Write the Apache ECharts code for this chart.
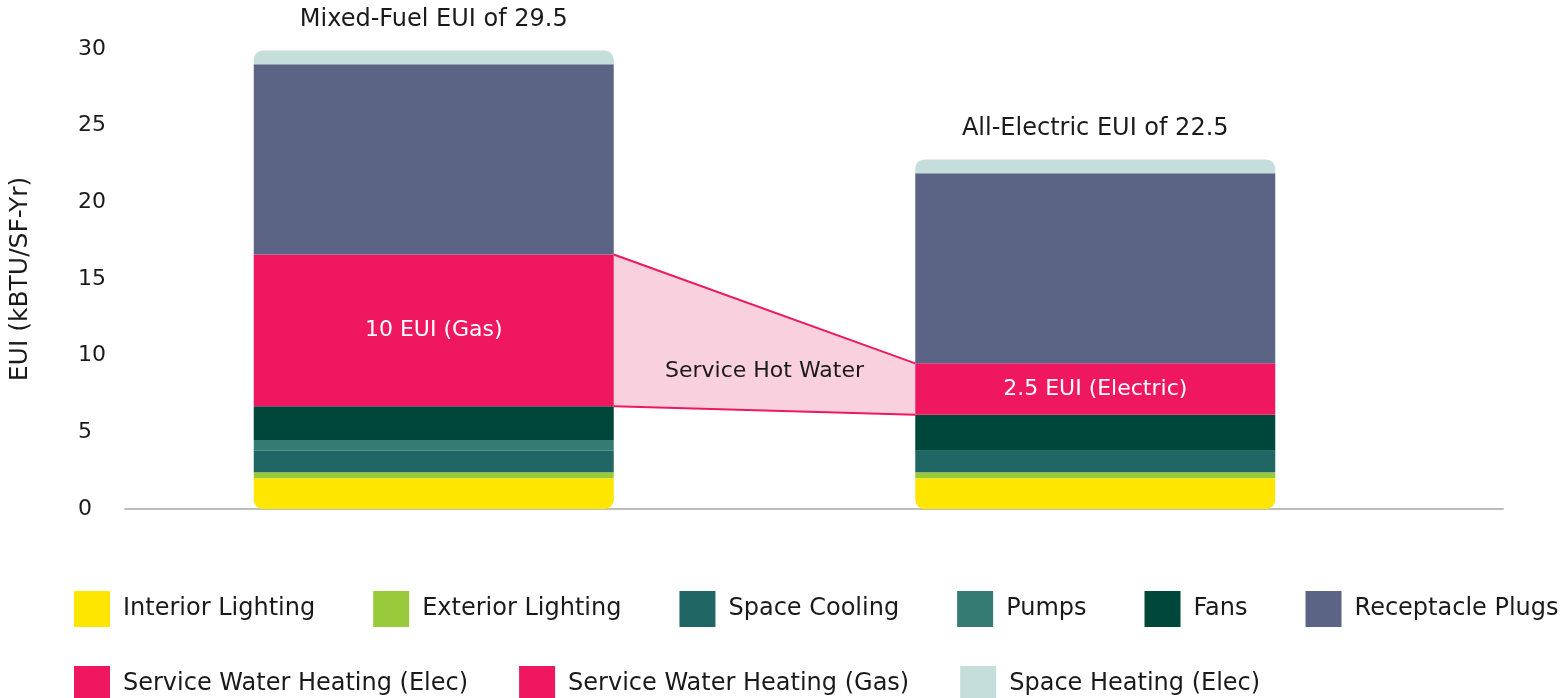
<!DOCTYPE html>
<html>
<head>
<meta charset="utf-8">
<script src="https://cdn.jsdelivr.net/npm/echarts@6/dist/echarts.min.js"></script>
<style>
  html, body { margin: 0; padding: 0; background: #fff; }
  #chart { width: 1562px; height: 698px; }
</style>
</head>
<body>
<div id="chart"></div>
<script>
// data (kBTU/SF-Yr)
const categories = ['Mixed-Fuel', 'All-Electric'];
const barTitles = ['Mixed-Fuel EUI of 29.5', 'All-Electric EUI of 22.5'];

const interiorLighting = [2.0, 2.0];
const exteriorLighting = [0.4, 0.4];
const spaceCooling = [1.4, 1.4];
const pumps = [0.7, 0];
const fans = [2.2, 2.35];
const swhElec = [0, 3.35];
const swhGas = [9.9, 0];
const receptaclePlugs = [12.4, 12.4];
const spaceHeating = [0.9, 0.9];

const swhLabels = ['10 EUI (Gas)', '2.5 EUI (Electric)'];
const connectorLabel = 'Service Hot Water';
const yTicks = [0, 30, 5]; // min, max, interval

const FONT = 'DejaVu Sans';
const FS = 22;
const LEGEND_FS = 24;
const PINK = '#EF1860';

const layers = [
  { name: 'Interior Lighting', data: interiorLighting, color: '#FFE600' },
  { name: 'Exterior Lighting', data: exteriorLighting, color: '#99CA3C' },
  { name: 'Space Cooling', data: spaceCooling, color: '#206665' },
  { name: 'Pumps', data: pumps, color: '#367A74' },
  { name: 'Fans', data: fans, color: '#00473B' },
  { name: 'Service Water Heating (Elec)', data: swhElec, color: PINK },
  { name: 'Service Water Heating (Gas)', data: swhGas, color: PINK },
  { name: 'Receptacle Plugs', data: receptaclePlugs, color: '#5C6486' },
  { name: 'Space Heating (Elec)', data: spaceHeating, color: '#C6DEDB' }
];

// stacked level below / above the hot water block
function sumUpTo(idx, count) {
  let s = 0;
  for (let i = 0; i < count; i++) s += layers[i].data[idx];
  return s;
}
const swhBottom = [sumUpTo(0, 5), sumUpTo(1, 5)];
const swhTop = [sumUpTo(0, 7), sumUpTo(1, 7)];

const BAR_W = 360;
const lastIdx = layers.length - 1;

const barSeries = layers.map((l, i) => {
  const s = {
    name: l.name,
    type: 'bar',
    stack: 'eui',
    barWidth: BAR_W,
    data: l.data,
    itemStyle: { color: l.color },
    emphasis: { disabled: true }
  };
  if (i === 0) s.itemStyle.borderRadius = [0, 0, 9, 9];
  if (i === lastIdx) {
    s.itemStyle.borderRadius = [9, 9, 0, 0];
    s.label = {
      show: true, position: 'top', distance: 19,
      formatter: p => barTitles[p.dataIndex],
      fontFamily: FONT, fontSize: 24, color: '#1a1a1a'
    };
  }
  if (l.name.indexOf('Service Water Heating') === 0) {
    s.label = {
      show: true, position: 'inside',
      formatter: p => (p.value > 0 ? swhLabels[p.dataIndex] : ''),
      fontFamily: FONT, fontSize: FS, color: '#fff'
    };
  }
  return s;
});

const connector = {
  type: 'custom',
  name: 'connector',
  xAxisIndex: 0, yAxisIndex: 0,
  silent: true,
  z: 1,
  data: [[0, swhTop[0], swhBottom[0], 1, swhTop[1], swhBottom[1]]],
  renderItem: (params, api) => {
    const half = BAR_W / 2;
    const lt = api.coord([api.value(0), api.value(1)]);
    const lb = api.coord([api.value(0), api.value(2)]);
    const rt = api.coord([api.value(3), api.value(4)]);
    const rb = api.coord([api.value(3), api.value(5)]);
    const x0 = lt[0] + half, x1 = rt[0] - half;
    const pts = [[x0, lt[1]], [x1, rt[1]], [x1, rb[1]], [x0, lb[1]]];
    return {
      type: 'group',
      children: [
        { type: 'polygon', shape: { points: pts }, style: { fill: '#F9D0DE' } },
        { type: 'line', shape: { x1: x0, y1: lt[1], x2: x1, y2: rt[1] }, style: { stroke: PINK, lineWidth: 2 } },
        { type: 'line', shape: { x1: x0, y1: lb[1], x2: x1, y2: rb[1] }, style: { stroke: PINK, lineWidth: 2 } },
        {
          type: 'text',
          x: (x0 + x1) / 2, y: (lt[1] + rt[1] + lb[1] + rb[1]) / 4 + 12,
          style: {
            text: connectorLabel, align: 'center', verticalAlign: 'middle',
            font: FS + 'px "' + FONT + '"', fill: '#1a1a1a'
          }
        }
      ]
    };
  }
};

const legendNames = layers.map(l => l.name);
const legendRow1 = ['Interior Lighting', 'Exterior Lighting', 'Space Cooling', 'Pumps', 'Fans', 'Receptacle Plugs'];
const legendRow2 = legendNames.filter(n => legendRow1.indexOf(n) < 0);

const legendBase = {
  left: 74,
  width: 3000,
  padding: 0,
  itemWidth: 36,
  itemHeight: 36,
  itemGap: 58,
  icon: 'rect',
  selectedMode: false,
  textStyle: { fontFamily: FONT, fontSize: LEGEND_FS, color: '#1a1a1a', padding: [0, 0, 0, 8] }
};

let myChart = echarts.init(document.getElementById('chart'));

myChart.setOption({
  animation: false,
  textStyle: { fontFamily: FONT },
  grid: [
    { left: 100, right: 136, top: 49, bottom: 189 },
    { left: 125, right: 59, top: 49, bottom: 189 }
  ],
  legend: [
    Object.assign({}, legendBase, { top: 591, data: legendRow1 }),
    Object.assign({}, legendBase, { top: 666, itemGap: 51, data: legendRow2 })
  ],
  xAxis: [
    {
      type: 'category', gridIndex: 0, data: categories,
      axisLine: { show: false }, axisTick: { show: false }, axisLabel: { show: false }
    },
    {
      type: 'category', gridIndex: 1, data: categories,
      axisLine: { show: true, lineStyle: { color: '#BDBDBD', width: 2 } },
      axisTick: { show: false }, axisLabel: { show: false }
    }
  ],
  yAxis: [
    {
      type: 'value', gridIndex: 0,
      min: yTicks[0], max: yTicks[1], interval: yTicks[2],
      name: 'EUI (kBTU/SF-Yr)', nameLocation: 'middle', nameGap: 70,
      nameTextStyle: { fontFamily: FONT, fontSize: 25, color: '#1a1a1a' },
      splitLine: { show: false }, axisLine: { show: false }, axisTick: { show: false },
      axisLabel: { align: 'left', margin: 25, fontFamily: FONT, fontSize: FS, color: '#1a1a1a' }
    },
    {
      type: 'value', gridIndex: 1, min: yTicks[0], max: yTicks[1],
      show: false
    }
  ],
  series: barSeries.concat([connector])
});

window.onresize = function () {
  myChart.resize();
};
</script>
</body>
</html>
